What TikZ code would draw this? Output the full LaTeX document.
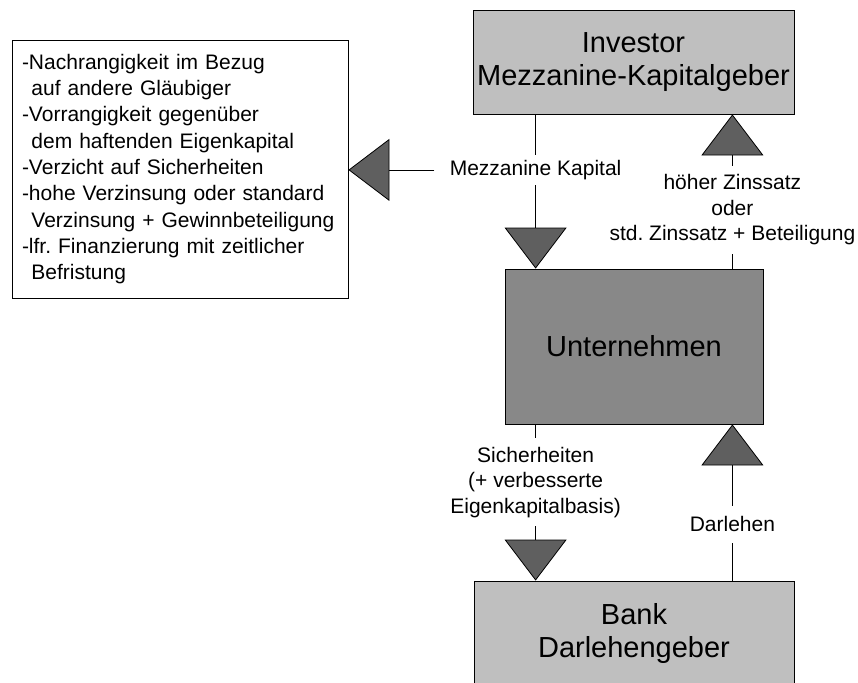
\documentclass[tikz,border=0pt]{standalone}
\usepackage{fontspec}
\setmainfont{Liberation Sans}
\usetikzlibrary{arrows.meta,positioning,calc}
\definecolor{boxgray}{HTML}{BFBFBF}
\definecolor{firmgray}{HTML}{888888}
\definecolor{tipgray}{HTML}{5F5F5F}
\newcommand{\ind}{\hspace*{0.45em}}
\frenchspacing

\begin{document}
\begin{tikzpicture}[x=1pt,y=-1pt,line width=0.8pt,
    party/.style={draw,minimum width=321pt,minimum height=104pt,fill=boxgray,align=center,font=\fontsize{29}{33}\selectfont},
    lbl/.style={fill=white,align=center,inner xsep=2pt,inner ysep=9pt,font=\fontsize{21}{25.5}\selectfont},
    flow/.style={-{Triangle[width=62pt,length=41pt,fill=tipgray]}}]
  \useasboundingbox (0,0) rectangle (858,682);
  \node[party] (investor) at (633.5,62) {Investor\\Mezzanine-Kapitalgeber};
  \node[party,minimum width=258pt,minimum height=155pt,fill=firmgray] (firma) at (634,346.5) {Unternehmen};
  \node[party,minimum width=320pt] (bank) at (634,633) {Bank\\Darlehengeber};
  \node[draw,minimum width=336pt,minimum height=258pt,text width=316pt,inner sep=10pt,align=left,
        font=\fontsize{21}{26.3}\selectfont] (info) at (180,169)
    {-Nachrangigkeit im Bezug\\\ind auf andere Gläubiger\\-Vorrangigkeit gegenüber\\\ind dem haftenden Eigenkapital\\
     -Verzicht auf Sicherheiten\\-hohe Verzinsung oder standard\\\ind Verzinsung + Gewinnbeteiligung\\
     -lfr. Finanzierung mit zeitlicher\\\ind Befristung};
  % connector feet, half a tip width inside the company box
  \coordinate (fa) at ([xshift=31pt]firma.north west);
  \coordinate (fb) at ([xshift=-31pt]firma.north east);
  \coordinate (fc) at ([xshift=31pt]firma.south west);
  \coordinate (fd) at ([xshift=-31pt]firma.south east);
  \draw[flow] (fb) -- node[lbl,pos=.38] {höher Zinssatz\\oder\\std. Zinssatz + Beteiligung} (investor.south -| fb);
  \draw[flow] (investor.south -| fa) -- node[lbl,pos=.36,inner xsep=15pt,inner ysep=5pt] (mk) {Mezzanine Kapital} (fa);
  \draw[flow] (mk.west) -- (mk.west -| info.east);
  \draw[flow] (fc) -- node[lbl,pos=.37] {Sicherheiten\\(+ verbesserte\\Eigenkapitalbasis)} (bank.north -| fc);
  \draw[flow] (bank.north -| fd) -- node[lbl,pos=.36,inner ysep=11pt] {Darlehen} (fd);
\end{tikzpicture}
\end{document}
